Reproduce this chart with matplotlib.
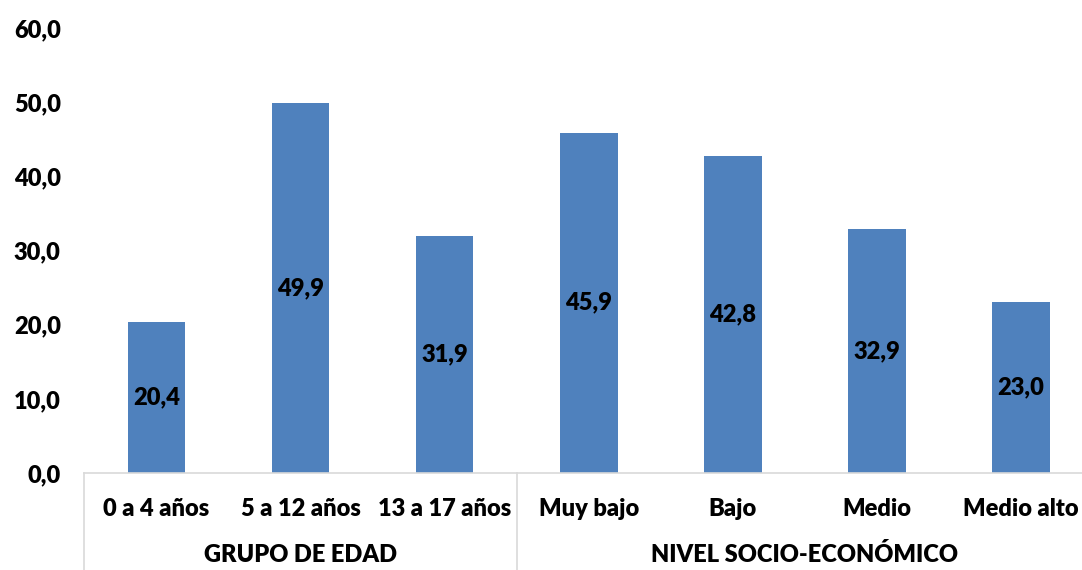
import matplotlib.pyplot as plt
import matplotlib.transforms as mtransforms

# Porcentajes por grupo de edad y nivel socio-económico
categorias = ['0 a 4 años', '5 a 12 años', '13 a 17 años',
              'Muy bajo', 'Bajo', 'Medio', 'Medio alto']
valores = [20.4, 49.9, 31.9, 45.9, 42.8, 32.9, 23.0]
grupos = ['GRUPO DE EDAD', 'NIVEL SOCIO-ECONÓMICO']
tamano_grupos = [3, 4]
ticks_y = [0, 10, 20, 30, 40, 50, 60]

plt.rcParams['font.family'] = ['Lato', 'DejaVu Sans']
PESO = 'heavy'
TAM = 17

W, H = 1082, 570
fig = plt.figure(figsize=(W / 100, H / 100), dpi=100)
# area del grafico en pixeles: izquierda 84, base 473, tope 28, derecha 1093
ax = fig.add_axes([84.4 / W, (H - 473) / H, (1093 - 84.4) / W, 445 / H])

x = list(range(len(categorias)))
barras = ax.bar(x, valores, width=0.4, color='#4F81BD')

for xi, v in zip(x, valores):
    ax.text(xi, v / 2, f'{v:.1f}'.replace('.', ','), ha='center', va='center',
            fontsize=TAM, fontweight=PESO, color='black')

ax.set_xlim(-0.5, len(categorias) - 0.5)
ax.set_ylim(0, 60)
ax.set_yticks(ticks_y)
ax.set_yticklabels([f'{t:.1f}'.replace('.', ',') for t in ticks_y],
                   fontsize=TAM, fontweight=PESO)
ax.tick_params(axis='y', length=0, pad=17)
ax.set_xticks([])

for lado in ['top', 'right', 'left']:
    ax.spines[lado].set_visible(False)
ax.spines['bottom'].set_color('#D9D9D9')
ax.spines['bottom'].set_linewidth(1.2)

trans = mtransforms.blended_transform_factory(ax.transData, ax.transAxes)
for xi, c in zip(x, categorias):
    ax.text(xi, -0.097, c, transform=trans, ha='center', va='baseline',
            fontsize=TAM, fontweight=PESO)

# separadores y etiquetas de grupo bajo el eje
inicio = 0
bordes = [-0.5]
for g, n in zip(grupos, tamano_grupos):
    centro = inicio + (n - 1) / 2
    ax.text(centro, -0.2, g, transform=trans, ha='center', va='baseline',
            fontsize=TAM, fontweight=PESO)
    inicio += n
    bordes.append(inicio - 0.5)
for b in bordes:
    ax.plot([b, b], [0, -0.25], transform=trans, color='#D9D9D9',
            linewidth=1.2, clip_on=False)

fig.savefig('out.png', dpi=100)
